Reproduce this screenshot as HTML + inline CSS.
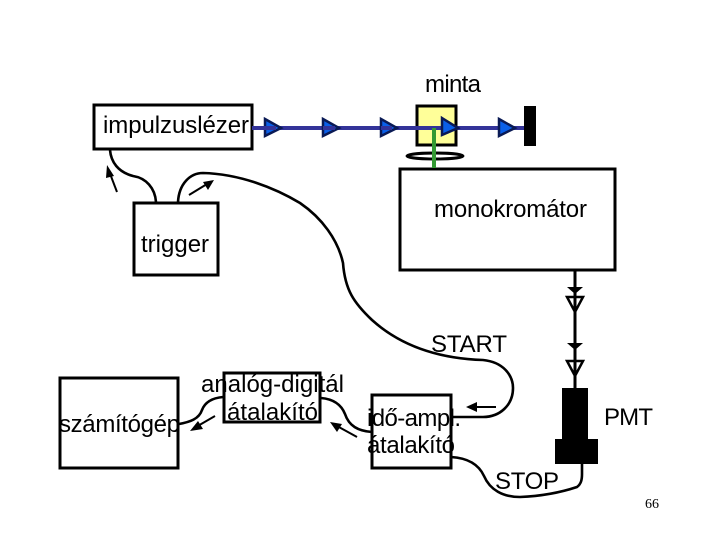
<!DOCTYPE html>
<html>
<head>
<meta charset="utf-8">
<style>
html,body{margin:0;padding:0;background:#fff;width:720px;height:540px;overflow:hidden}
svg{display:block}
text{font-family:"Liberation Sans",sans-serif;font-size:24px;fill:#000}
</style>
</head>
<body>
<svg width="720" height="540" viewBox="0 0 720 540" xmlns="http://www.w3.org/2000/svg">
<g fill="none" stroke="#000" stroke-width="3">
  <rect x="94" y="105" width="158" height="44"/>
  <rect x="134" y="203" width="84" height="72"/>
  <rect x="400" y="169" width="215" height="101"/>
  <rect x="60" y="378" width="118" height="90"/>
  <rect x="224" y="373" width="96" height="49"/>
  <rect x="372" y="395" width="79" height="73"/>
  <path stroke-width="2.6" d="M110 150C111 162 118 172 133 176C146 178 155 188 156 202"/>
  <path stroke-width="2.6" d="M178 202C179 184 190 173 203 173C240 174 275 188 300 203C322 218 338 240 343 263C345 290 354 303 372 320C392 338 425 358 483 360C503 362 513 375 513 388C513 405 500 417 483 417L451 417"/>
  <path stroke-width="2.6" d="M223 397C212 398 205 402 202 410C199 419 190 422 179 424"/>
  <path stroke-width="2.6" d="M321 398C333 399 341 404 345 414C349 426 358 431 372 432"/>
  <path stroke-width="2.6" d="M451 457C468 458 479 465 484 476C490 490 503 497 520 497C545 496 565 491 577 487C581 484 582 480 582 474L582 463"/>
</g>
<g stroke="#000" stroke-width="2" fill="none">
  <path d="M117 192L109 171"/>
  <path d="M189 195L207 184"/>
  <path d="M215 416L196 427"/>
  <path d="M357 437L337 426"/>
  <path d="M496 407L473 407"/>
</g>
<g fill="#000">
  <polygon points="107,165 114,176 106,178"/>
  <polygon points="214,180 208,190 203,182"/>
  <polygon points="190,431 198,421 203,429"/>
  <polygon points="330,422 342,424 337,432"/>
  <polygon points="466,407 477,402 477,412"/>
</g>
<rect x="417" y="106" width="39" height="39" fill="#ffff99" stroke="#000" stroke-width="3"/>
<rect x="524" y="106" width="12" height="40" fill="#000"/>
<ellipse cx="435" cy="156" rx="28" ry="3" fill="none" stroke="#000" stroke-width="3"/>
<line x1="252" y1="128" x2="524" y2="128" stroke="#333399" stroke-width="4"/>
<g fill="#0a5fe8" stroke="#0a1a55" stroke-width="2.5" stroke-linejoin="miter">
  <polygon points="265,119 281,128 265,136"/>
  <polygon points="323,119 339,128 323,136"/>
  <polygon points="381,119 397,128 381,136"/>
  <polygon points="442,118 458,128 442,135"/>
  <polygon points="499,119 515,128 499,136"/>
</g>
<g stroke="#333399" stroke-width="4">
  <line x1="252" y1="128" x2="276" y2="128"/>
  <line x1="323" y1="128" x2="335" y2="128"/>
  <line x1="381" y1="128" x2="392" y2="128"/>
</g>
<line x1="434" y1="128" x2="434" y2="168" stroke="#339933" stroke-width="4"/>
<g fill="#fff" stroke="#000" stroke-width="2.5">
  <polygon points="567,297 583,297 575,312"/>
  <polygon points="567,361 583,361 575,376"/>
</g>
<line x1="575" y1="270" x2="575" y2="390" stroke="#000" stroke-width="3"/>
<g fill="#000">
  <polygon points="567,287 583,287 575,294"/>
  <polygon points="567,343 583,343 575,350"/>
  <rect x="562" y="388" width="26" height="52"/>
  <rect x="555" y="439" width="43" height="25"/>
</g>
<text x="425" y="92" textLength="56">minta</text>
<text x="103" y="133" textLength="146">impulzuslézer</text>
<text x="434" y="217" textLength="153">monokromátor</text>
<text x="141" y="252">trigger</text>
<text x="431" y="352" textLength="76">START</text>
<text x="201" y="392" textLength="143">analóg-digitál</text>
<text x="227" y="420" textLength="91">átalakító</text>
<text x="59" y="432" textLength="121">számítógép</text>
<text x="367" y="426" textLength="94">idő-ampl.</text>
<text x="367" y="453" textLength="88">átalakító</text>
<text x="495" y="489" textLength="64">STOP</text>
<text x="604" y="425" textLength="49">PMT</text>
<text x="645" y="508" style="font-family:'Liberation Serif',serif;font-size:14px">66</text>
</svg>
</body>
</html>
